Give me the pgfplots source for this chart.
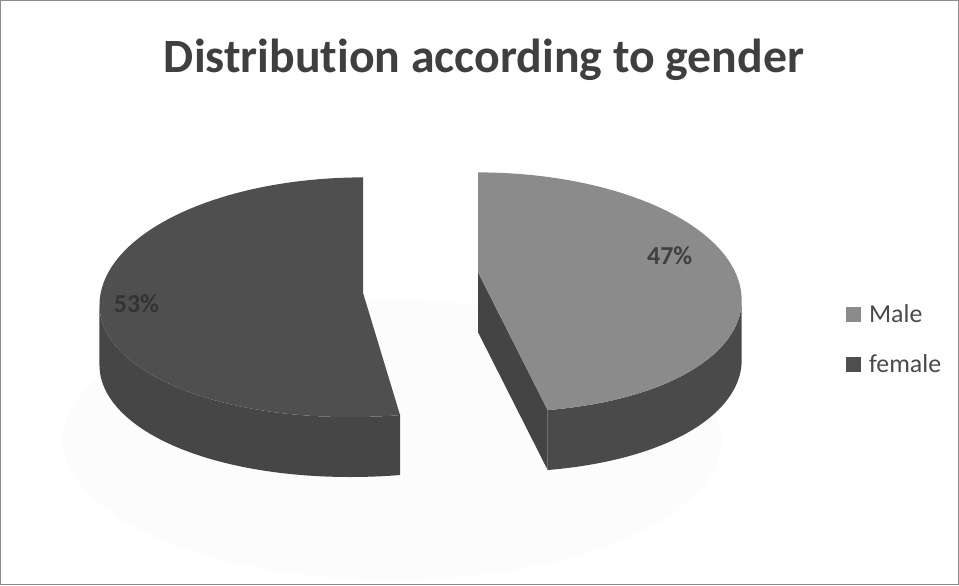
\documentclass[border=0pt]{standalone}
\usepackage{pgfplots}
\pgfplotsset{compat=1.18}
\usepackage{pgfplotstable}
\usepackage{fontspec}
\setmainfont[Ligatures={NoCommon,NoContextual}]{Carlito}
\definecolor{ftop}{HTML}{4F4F4F}
\definecolor{fside}{HTML}{464646}
\definecolor{mtop}{HTML}{8B8B8B}
\definecolor{mside}{HTML}{4A4A4A}
\definecolor{mcut}{HTML}{444444}
\definecolor{titlec}{HTML}{3F3F3F}
\definecolor{legtext}{HTML}{4A4A4A}
\pgfplotstableread{
label value
Male 47
female 53
}\piedata
\pgfplotstablegetelem{0}{value}\of\piedata \let\vM\pgfplotsretval
\pgfplotstablegetelem{1}{value}\of\piedata \let\vF\pgfplotsretval
\pgfmathsetmacro\split{360*(\vM/(\vM+\vF))}
% apex (centre point) and ellipse centre of each exploded slice
\def\axm{478}\def\aym{272}\def\eym{300}\def\sm{21}
\def\axf{363}\def\ayf{293}\def\eyf{305}\def\sf{-13}
\begin{document}
\begin{tikzpicture}
\begin{axis}[width=959bp,height=585bp,scale only axis,
  xmin=0,xmax=959,ymin=0,ymax=585,y dir=reverse,ticks=none,
  axis line style={draw=black!45,line width=1.2bp},clip=false,
  declare function={
    ex(\t,\c,\k)=\c+264*sin(\t)+((cos(\t)<0)?\k*cos(\t)^2:0);
    ey(\t,\c)=\c-((cos(\t)>0)?128:112)*cos(\t);
    th(\s,\a,\b)=(\s<=100)?(\a+(\b-\a)*\s/100):(\b-(\b-\a)*(\s-101)/100);
    dz(\s)=(\s>100)?60:0;
  },
  legend style={at={(axis cs:846,339)},anchor=west,draw=none,fill=none,
    font=\fontsize{26}{30}\selectfont,text=legtext,row sep=26bp,
    inner sep=0pt},
  legend cell align=left]
% faint reflection
\addplot[forget plot,fill=black!1.2,draw=none,domain=0:360,samples=100]
  ({392+330*cos(x)},{440+140*sin(x)});
% male cut face
\addplot[forget plot,fill=mcut,draw=none,samples at={0,1,2,3},variable=\s]
  ({(\s>0.5 && \s<2.5)?ex(\split,\axm,\sm):\axm},
   {((\s>0.5 && \s<2.5)?ey(\split,\eym):\aym)+((\s>1.5)?60:0)});
% male outer side
\addplot[forget plot,fill=mside,draw=none,samples at={0,1,...,201},variable=\s]
  ({ex(th(\s,90,\split),\axm,\sm)},{ey(th(\s,90,\split),\eym)+dz(\s)});
% male top
\addplot[forget plot,fill=mtop,draw=none,samples at={0,1,...,101},variable=\s]
  ({(\s<=100)?ex(\split*\s/100,\axm,\sm):\axm},{(\s<=100)?ey(\split*\s/100,\eym):\aym});
% female outer side
\addplot[forget plot,fill=fside,draw=none,samples at={0,1,...,201},variable=\s]
  ({ex(th(\s,\split,270),\axf,\sf)},{ey(th(\s,\split,270),\eyf)+dz(\s)});
% female top
\addplot[forget plot,fill=ftop,draw=none,samples at={0,1,...,101},variable=\s]
  ({(\s<=100)?ex(\split+(360-\split)*\s/100,\axf,\sf):\axf},
   {(\s<=100)?ey(\split+(360-\split)*\s/100,\eyf):\ayf});
% labels
\node[text=black!75,font=\bfseries\fontsize{26}{30}\selectfont] at (axis cs:670,255) {47\%};
\node[text=black!80,font=\bfseries\fontsize{26}{30}\selectfont] at (axis cs:136,303) {53\%};
\node[text=titlec,font=\bfseries\fontsize{48}{54}\selectfont,anchor=base] at (axis cs:484,72) {Distribution according to gender};
% legend
\addlegendimage{legend image code/.code={\fill[mtop] (0bp,-7bp) rectangle (14bp,7bp);\path (21bp,0bp);}}
\addlegendentry{Male}
\addlegendimage{legend image code/.code={\fill[ftop] (0bp,-7bp) rectangle (14bp,7bp);\path (21bp,0bp);}}
\addlegendentry{female}
\end{axis}
\end{tikzpicture}
\end{document}
